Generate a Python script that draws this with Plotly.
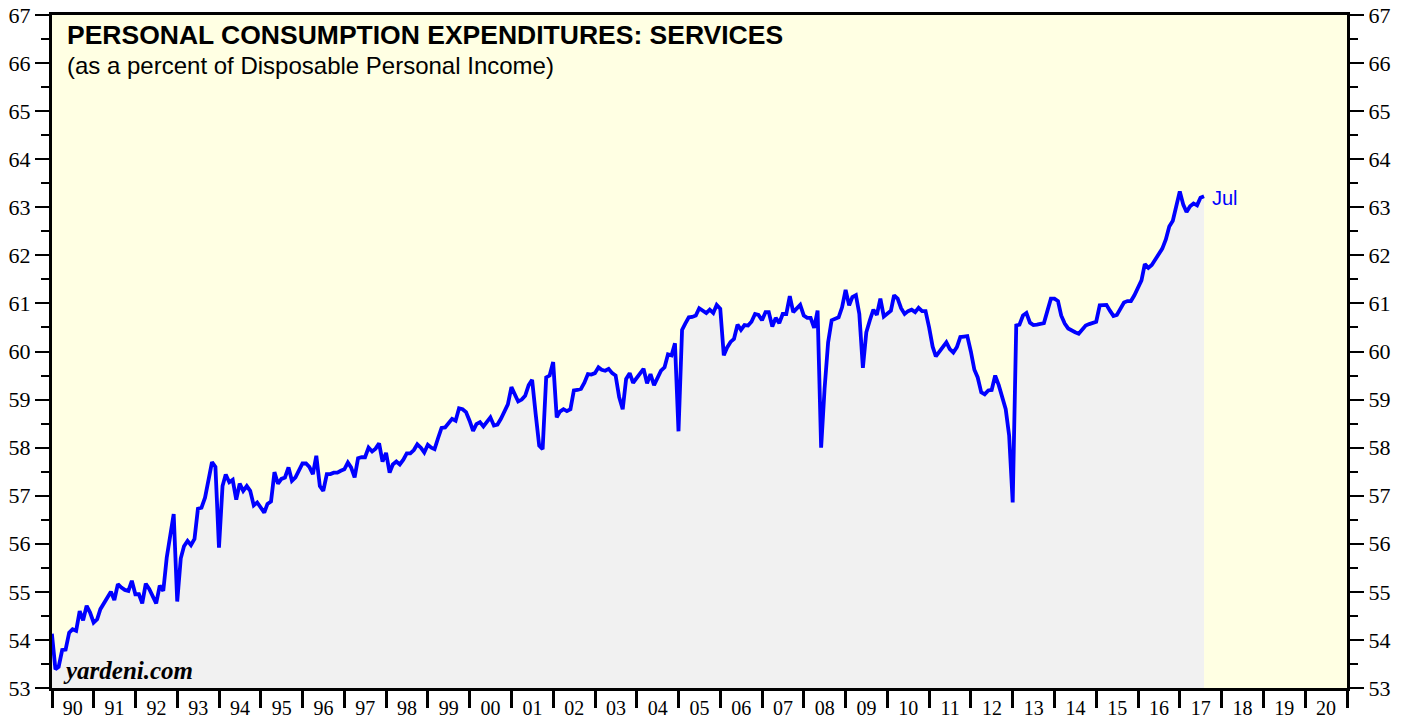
import pandas as pd
import plotly.graph_objects as go

# Personal consumption expenditures on services, % of disposable personal income
# monthly values (plotted at month end), Dec 1989 .. Jul 2017
v1989 = [54.13]
v1990 = [53.39, 53.44, 53.79, 53.80, 54.15, 54.22, 54.19, 54.60, 54.41, 54.71, 54.57, 54.36]
v1991 = [54.43, 54.64, 54.76, 54.86, 55.00, 54.83, 55.16, 55.09, 55.04, 55.02, 55.23, 54.95]
v1992 = [54.95, 54.76, 55.17, 55.06, 54.92, 54.76, 55.13, 55.02, 55.71, 56.13, 56.62, 54.80]
v1993 = [55.70, 55.95, 56.06, 55.97, 56.10, 56.73, 56.75, 56.96, 57.35, 57.70, 57.60, 55.92]
v1994 = [57.20, 57.44, 57.28, 57.33, 56.92, 57.25, 57.10, 57.20, 57.10, 56.80, 56.86, 56.75]
v1995 = [56.65, 56.83, 56.88, 57.49, 57.25, 57.35, 57.38, 57.59, 57.31, 57.38, 57.52, 57.67]
v1996 = [57.67, 57.60, 57.45, 57.83, 57.20, 57.10, 57.45, 57.45, 57.48, 57.48, 57.52, 57.55]
v1997 = [57.69, 57.59, 57.38, 57.78, 57.80, 57.80, 58.00, 57.92, 57.98, 58.09, 57.71, 57.89]
v1998 = [57.48, 57.65, 57.71, 57.65, 57.75, 57.88, 57.88, 57.95, 58.07, 58.00, 57.90, 58.06]
v1999 = [58.00, 57.97, 58.20, 58.41, 58.42, 58.50, 58.60, 58.56, 58.82, 58.80, 58.74, 58.56]
v2000 = [58.35, 58.49, 58.53, 58.44, 58.55, 58.63, 58.46, 58.48, 58.60, 58.76, 58.90, 59.26]
v2001 = [59.10, 58.96, 59.00, 59.08, 59.30, 59.41, 58.70, 58.04, 57.97, 59.46, 59.50, 59.78]
v2002 = [58.63, 58.75, 58.80, 58.76, 58.80, 59.19, 59.20, 59.22, 59.35, 59.53, 59.52, 59.55]
v2003 = [59.67, 59.62, 59.60, 59.64, 59.55, 59.50, 59.05, 58.80, 59.43, 59.55, 59.35, 59.45]
v2004 = [59.57, 59.64, 59.34, 59.53, 59.30, 59.45, 59.60, 59.67, 59.94, 59.92, 60.17, 58.34]
v2005 = [60.45, 60.58, 60.71, 60.72, 60.75, 60.90, 60.84, 60.80, 60.87, 60.80, 60.97, 60.89]
v2006 = [59.92, 60.08, 60.20, 60.26, 60.56, 60.45, 60.55, 60.54, 60.62, 60.78, 60.76, 60.65]
v2007 = [60.82, 60.82, 60.52, 60.70, 60.59, 60.78, 60.78, 61.15, 60.82, 60.91, 60.97, 60.75]
v2008 = [60.70, 60.70, 60.49, 60.85, 58.00, 59.22, 60.19, 60.65, 60.68, 60.71, 60.92, 61.28]
v2009 = [60.96, 61.13, 61.17, 60.78, 59.66, 60.40, 60.65, 60.87, 60.76, 61.10, 60.73, 60.80]
v2010 = [60.85, 61.17, 61.10, 60.90, 60.78, 60.84, 60.87, 60.82, 60.91, 60.84, 60.84, 60.50]
v2011 = [60.10, 59.90, 60.00, 60.08, 60.19, 60.05, 59.98, 60.09, 60.30, 60.31, 60.32, 60.00]
v2012 = [59.62, 59.46, 59.15, 59.11, 59.19, 59.20, 59.50, 59.30, 59.08, 58.80, 58.25, 56.86]
v2013 = [60.54, 60.56, 60.75, 60.80, 60.60, 60.55, 60.56, 60.58, 60.59, 60.85, 61.10, 61.10]
v2014 = [61.05, 60.75, 60.58, 60.48, 60.43, 60.40, 60.37, 60.47, 60.54, 60.57, 60.60, 60.62]
v2015 = [60.96, 60.96, 60.97, 60.85, 60.74, 60.76, 60.90, 61.02, 61.05, 61.05, 61.17, 61.35]
v2016 = [61.48, 61.82, 61.74, 61.80, 61.92, 62.05, 62.14, 62.33, 62.60, 62.72, 63.00, 63.33]
v2017 = [63.05, 62.90, 63.02, 63.08, 63.04, 63.20, 63.23]

years = [v1989, v1990, v1991, v1992, v1993, v1994, v1995, v1996, v1997, v1998,
         v1999, v2000, v2001, v2002, v2003, v2004, v2005, v2006, v2007, v2008,
         v2009, v2010, v2011, v2012, v2013, v2014, v2015, v2016, v2017]
values = [v for yr in years for v in yr]
dates = pd.date_range("1990-01-01", periods=len(values), freq="MS") - pd.Timedelta(days=1)

last_label = "Jul"
title = "PERSONAL CONSUMPTION EXPENDITURES: SERVICES"
subtitle = "(as a percent of Disposable Personal Income)"
source = "yardeni.com"

FIG_W, FIG_H = 1407, 719
ML, MR, MT, MB = 52, 60, 15, 31
PW = FIG_W - ML - MR
PH = FIG_H - MT - MB

def px(xpix):
    return (xpix - ML) / PW

def py(ypix):
    return (FIG_H - MB - ypix) / PH

fig = go.Figure()
fig.add_trace(go.Scatter(
    x=dates, y=values, mode="lines",
    line=dict(color="#0000FF", width=3.8),
    fill="tozeroy", fillcolor="#F1F1F1",
    hoverinfo="skip", showlegend=False,
))
# invisible trace for the right-hand axis
fig.add_trace(go.Scatter(
    x=dates, y=values, mode="lines", yaxis="y2",
    line=dict(color="rgba(0,0,0,0)", width=0),
    hoverinfo="skip", showlegend=False,
))

yaxis_common = dict(
    range=[53, 67], dtick=1, tick0=53,
    ticks="outside", ticklen=14, tickwidth=2, tickcolor="black",
    minor=dict(dtick=0.5, ticks="outside", ticklen=8, tickwidth=1.5, tickcolor="black", showgrid=False),
    showgrid=False, zeroline=False, automargin=False,
    showline=True, linewidth=3, linecolor="black",
    tickfont=dict(family="Liberation Serif", size=22, color="black"),
    fixedrange=True,
)

fig.update_layout(
    width=FIG_W, height=FIG_H,
    margin=dict(l=ML, r=MR, t=MT, b=MB, autoexpand=False),
    paper_bgcolor="white",
    plot_bgcolor="#FFFFE3",
    xaxis=dict(
        type="date",
        range=["1990-01-01", "2021-01-01"],
        dtick="M12", tick0="1990-01-01",
        tickformat="%y", ticklabelmode="period",
        ticks="outside", ticklen=17, tickwidth=2.5, tickcolor="black",
        ticklabelstandoff=-17, automargin=False,
        showgrid=False, zeroline=False,
        showline=True, linewidth=3, linecolor="black", mirror=True,
        tickfont=dict(family="Liberation Serif", size=20, color="black"),
        fixedrange=True,
    ),
    yaxis=dict(side="left", **yaxis_common),
    yaxis2=dict(side="right", overlaying="y", **yaxis_common),
    annotations=[
        dict(text="<b>" + title + "</b>", xref="paper", yref="paper",
             x=px(65), y=py(46), xanchor="left", yanchor="bottom", yshift=-6,
             showarrow=False, font=dict(family="Liberation Sans", size=26.5, color="black")),
        dict(text=subtitle, xref="paper", yref="paper",
             x=px(65), y=py(75), xanchor="left", yanchor="bottom", yshift=-6,
             showarrow=False, font=dict(family="Liberation Sans", size=24, color="black")),
        dict(text="<b><i>" + source + "</i></b>", xref="paper", yref="paper",
             x=px(61), y=py(686), xanchor="left", yanchor="bottom",
             showarrow=False, font=dict(family="Liberation Serif", size=25, color="black")),
        dict(text=last_label, xref="x", yref="y",
             x=dates[-1], y=values[-1], xanchor="left", yanchor="middle",
             xshift=6, yshift=-2, showarrow=False,
             font=dict(family="Liberation Sans", size=20, color="#0000FF")),
    ],
)

fig.write_html("out.html", config={"displayModeBar": False},
               post_script="document.body.style.margin='0';")
